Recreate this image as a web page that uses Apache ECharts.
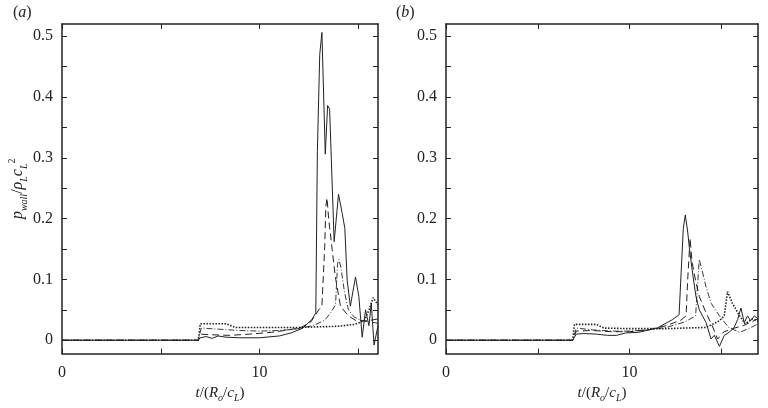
<!DOCTYPE html>
<html>
<head>
<meta charset="utf-8">
<script src="https://cdn.jsdelivr.net/npm/echarts@6/dist/echarts.min.js"></script>
<style>
  html, body { margin: 0; padding: 0; background: #fff; }
  #chart { width: 768px; height: 408px; }
</style>
</head>
<body>
<div id="chart"></div>
<script>
/* Tick values and labels. */
var yTicks = [0, 0.05, 0.1, 0.15, 0.2, 0.25, 0.3, 0.35, 0.4, 0.45, 0.5];
var yLabels = [0, 0.1, 0.2, 0.3, 0.4, 0.5];
var xTicks = [0, 5, 10, 15];
var xLabels = [0, 10];

/* Panel (a): [t, p] pairs. */
var aSolid = [[0,0],[6.9,0],[7.0,0.004],[7.3,0.006],[7.6,0.003],[7.9,0.007],[8.3,0.005],[9,0.004],[10,0.004],[11,0.007],[11.6,0.012],[12.2,0.02],[12.65,0.034],[12.85,0.045],[12.93,0.31],[13.05,0.47],[13.16,0.506],[13.33,0.306],[13.45,0.386],[13.55,0.38],[13.78,0.162],[14.0,0.24],[14.18,0.21],[14.32,0.184],[14.44,0.098],[14.6,0.056],[14.86,0.104],[15.03,0.072],[15.2,0.005],[15.37,0.05],[15.54,0.024],[15.66,0.06],[15.8,-0.008],[16,0.024]];
var aDashed = [[0,0],[6.9,0],[7.05,0.01],[7.5,0.009],[8.5,0.008],[9.5,0.01],[10.6,0.013],[11.5,0.017],[12.1,0.021],[12.6,0.03],[13.0,0.05],[13.16,0.056],[13.3,0.152],[13.36,0.22],[13.42,0.234],[13.5,0.2],[13.67,0.152],[13.84,0.104],[14.1,0.056],[14.5,0.04],[14.9,0.032],[15.5,0.032],[16,0.035]];
var aDashDot = [[0,0],[6.9,0],[7.05,0.02],[8,0.018],[9,0.016],[10,0.015],[11,0.016],[12,0.019],[12.8,0.025],[13.3,0.033],[13.6,0.045],[13.85,0.058],[13.95,0.125],[14.02,0.133],[14.12,0.12],[14.3,0.08],[14.5,0.05],[14.8,0.038],[15.2,0.032],[15.6,0.03],[16,0.028]];
var aDotted = [[0,0],[6.9,0],[7.0,0.027],[8.3,0.027],[8.8,0.021],[10,0.021],[11,0.021],[12,0.021],[13,0.022],[14,0.023],[14.8,0.026],[15.3,0.032],[15.55,0.05],[15.75,0.07],[15.85,0.07],[16,0.058]];

/* Panel (b). */
var bSolid = [[0,0],[6.9,0],[7.1,0.01],[7.5,0.011],[8.2,0.01],[8.8,0.008],[9.3,0.008],[9.8,0.012],[10.5,0.013],[11.5,0.02],[12.35,0.034],[12.7,0.042],[12.8,0.045],[12.93,0.184],[13.04,0.206],[13.17,0.178],[13.26,0.152],[13.44,0.109],[13.62,0.072],[13.8,0.05],[14.17,0.029],[14.44,0.002],[14.62,0.008],[14.9,-0.01],[15.16,0.008],[15.43,0.013],[15.7,0.021],[15.89,0.034],[16.07,0.053],[16.25,0.029],[16.43,0.04],[16.6,0.032],[16.8,0.04],[17,0.035]];
var bDashed = [[0,0],[6.9,0],[7.1,0.015],[8,0.016],[9,0.014],[10,0.014],[11,0.017],[12,0.024],[12.8,0.033],[13.08,0.04],[13.17,0.1],[13.3,0.168],[13.4,0.13],[13.6,0.098],[13.8,0.072],[14.17,0.045],[14.5,0.024],[14.8,0.002],[15.1,0.013],[15.6,0.019],[16.2,0.024],[17,0.035]];
var bDashDot = [[0,0],[6.9,0],[7.1,0.02],[8,0.017],[9,0.015],[10,0.015],[11,0.017],[12,0.021],[13,0.03],[13.6,0.04],[13.7,0.088],[13.8,0.133],[14.0,0.109],[14.17,0.088],[14.44,0.061],[14.9,0.04],[15.4,0.021],[16,0.013],[16.5,0.019],[17,0.027]];
var bDotted = [[0,0],[6.9,0],[7.0,0.026],[8.2,0.026],[8.6,0.02],[10,0.019],[12,0.019],[13,0.02],[14.17,0.021],[14.9,0.032],[15.16,0.04],[15.34,0.08],[15.6,0.061],[16,0.04],[16.3,0.027],[16.7,0.035],[17,0.032]];

var ink = '#222';
var serif = '"Liberation Serif", "DejaVu Serif", serif';

var chart = echarts.init(document.getElementById('chart'));

function xAxisFor(grid, max, top) {
    return {
        type: 'value', gridIndex: grid, min: 0, max: max,
        position: top ? 'top' : 'bottom',
        name: top ? '' : '{i|t}{n|/(}{i|R}{s|o}{n|/}{i|c}{s|L}{n|)}',
        nameLocation: 'middle', nameGap: 26,
        nameTextStyle: {
            rich: {
                i: { fontFamily: serif, fontStyle: 'italic', fontSize: 15, color: ink, lineHeight: 20, verticalAlign: 'middle' },
                n: { fontFamily: serif, fontSize: 15, color: ink, lineHeight: 20, verticalAlign: 'middle' },
                s: { fontFamily: serif, fontStyle: 'italic', fontSize: 10, color: ink, lineHeight: 20, verticalAlign: 'bottom' }
            }
        },
        splitLine: { show: false },
        axisLine: { onZero: false, lineStyle: { color: ink, width: 1.5 } },
        axisTick: { inside: true, length: 5, customValues: xTicks, lineStyle: { color: ink } },
        axisLabel: {
            show: !top, margin: 11, customValues: xLabels,
            fontFamily: serif, fontSize: 16, color: ink
        }
    };
}

function yAxisFor(grid, right) {
    return {
        type: 'value', gridIndex: grid, min: -0.022, max: 0.52,
        position: right ? 'right' : 'left',
        name: (right || grid === 1) ? '' : '{i|p}{s|wall}{n|/}{i|ρ}{s|L}{i|c}{s|L}{p|2}',
        nameLocation: 'middle', nameGap: 30, nameRotate: 90,
        nameTextStyle: {
            rich: {
                i: { fontFamily: serif, fontStyle: 'italic', fontSize: 16, color: ink, lineHeight: 22, verticalAlign: 'middle' },
                n: { fontFamily: serif, fontSize: 16, color: ink, lineHeight: 22, verticalAlign: 'middle' },
                s: { fontFamily: serif, fontStyle: 'italic', fontSize: 10, color: ink, lineHeight: 22, verticalAlign: 'bottom' },
                p: { fontFamily: serif, fontSize: 10, color: ink, lineHeight: 22, verticalAlign: 'top' }
            }
        },
        splitLine: { show: false },
        axisLine: { onZero: false, lineStyle: { color: ink, width: 1.5 } },
        axisTick: { inside: true, length: 5, customValues: yTicks, lineStyle: { color: ink } },
        axisLabel: {
            show: !right, margin: 9, customValues: yLabels,
            fontFamily: serif, fontSize: 16, color: ink,
            formatter: function (v) { return v === 0 ? '0' : v.toFixed(1); }
        }
    };
}

function line(data, xi, yi, type, width) {
    return {
        type: 'line', data: data, xAxisIndex: xi, yAxisIndex: yi,
        symbol: 'none', silent: true, clip: true,
        lineStyle: { color: ink, width: width, type: type }
    };
}

var option = {
    animation: false,
    backgroundColor: '#fff',
    grid: [
        { left: 62, top: 24, width: 316, height: 338 },
        { left: 446, top: 24, width: 312, height: 338 }
    ],
    xAxis: [
        xAxisFor(0, 16, false), xAxisFor(0, 16, true),
        xAxisFor(1, 17, false), xAxisFor(1, 17, true)
    ],
    yAxis: [
        yAxisFor(0, false), yAxisFor(0, true),
        yAxisFor(1, false), yAxisFor(1, true)
    ],
    graphic: [
        { type: 'text', left: 13, top: 5, style: { text: '{n|(}{i|a}{n|)}', rich: {
            n: { fontFamily: serif, fontSize: 16, fill: ink },
            i: { fontFamily: serif, fontSize: 16, fontStyle: 'italic', fill: ink } } } },
        { type: 'text', left: 396, top: 5, style: { text: '{n|(}{i|b}{n|)}', rich: {
            n: { fontFamily: serif, fontSize: 16, fill: ink },
            i: { fontFamily: serif, fontSize: 16, fontStyle: 'italic', fill: ink } } } }
    ],
    series: [
        line(aSolid, 0, 0, 'solid', 1),
        line(aDashed, 0, 0, [7, 4], 1),
        line(aDashDot, 0, 0, [6, 2, 1, 2], 0.9),
        line(aDotted, 0, 0, [1.5, 1.5], 1.6),
        line(bSolid, 2, 2, 'solid', 1),
        line(bDashed, 2, 2, [7, 4], 1),
        line(bDashDot, 2, 2, [6, 2, 1, 2], 0.9),
        line(bDotted, 2, 2, [1.5, 1.5], 1.6)
    ]
};
chart.setOption(option);

/* Responsiveness. */
window.addEventListener('resize', function () {
    chart.resize();
});
</script>
</body>
</html>
